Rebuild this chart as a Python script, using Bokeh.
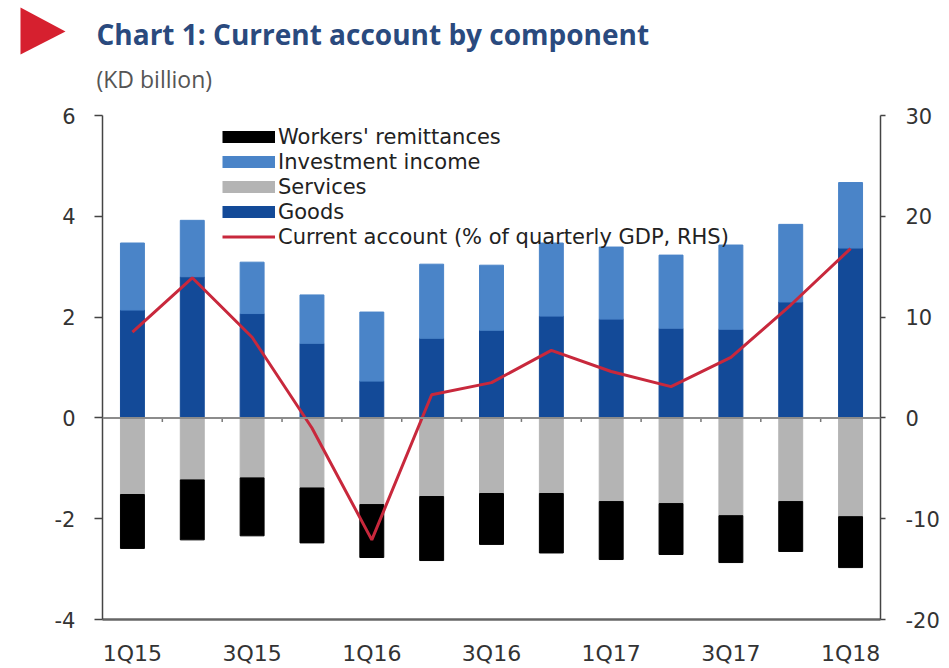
from bokeh.plotting import figure
from bokeh.layouts import column
from bokeh.models import (Range1d, LinearAxis, FixedTicker, Legend, LegendItem,
                          Span, ColumnDataSource)
from bokeh.core.properties import value
from bokeh.embed import file_html
from bokeh.resources import INLINE
import numpy as np

quarters = ["1Q15", "2Q15", "3Q15", "4Q15", "1Q16", "2Q16", "3Q16", "4Q16",
            "1Q17", "2Q17", "3Q17", "4Q17", "1Q18"]
goods = [2.14, 2.80, 2.07, 1.48, 0.73, 1.58, 1.74, 2.02, 1.96, 1.78, 1.76, 2.30, 3.37]
investment_income = [1.33, 1.12, 1.02, 0.96, 1.37, 1.47, 1.29, 1.45, 1.43, 1.45, 1.67, 1.54, 1.30]
services = [-1.52, -1.23, -1.19, -1.39, -1.72, -1.56, -1.50, -1.50, -1.66, -1.70, -1.94, -1.66, -1.96]
workers_remittances = [-1.07, -1.19, -1.15, -1.09, -1.05, -1.27, -1.01, -1.18, -1.15, -1.01, -0.93, -0.99, -1.01]
current_account_pct_gdp = [8.5, 13.9, 8.0, -1.0, -12.1, 2.3, 3.5, 6.7, 4.6, 3.1, 6.0, 11.2, 16.8]

left_ticks = [-4, -2, 0, 2, 4, 6]
right_ticks = [-20, -10, 0, 10, 20, 30]
label_every = 2

TITLE = "Chart 1: Current account by component"
SUBTITLE = "(KD billion)"

C_GOODS = "#134A98"
C_INV = "#4A84C8"
C_SERV = "#B4B4B4"
C_REM = "#000000"
C_LINE = "#C8283C"
TXT = "#333333"

x = np.arange(len(quarters))
g = np.array(goods)
inv = np.array(investment_income)
sv = np.array(services)
rm = np.array(workers_remittances)

src = ColumnDataSource(dict(
    x=x,
    goods_top=g,
    inv_bottom=g, inv_top=g + inv,
    serv_bottom=sv,
    rem_top=sv, rem_bottom=sv + rm,
    ca=current_account_pct_gdp,
))

# ---------- header (title block) ----------
HW, HH = 949, 100
h = figure(width=HW, height=HH, output_backend="svg", toolbar_location=None,
           x_range=Range1d(0, HW), y_range=Range1d(HH, 0),
           x_axis_location=None, y_axis_location=None, min_border=0,
           background_fill_color="white", border_fill_color="white")
h.outline_line_color = None
h.grid.visible = False
h.patch(x=[20, 20, 65], y=[7, 54, 31], fill_color="#D6202F", line_color=None)
h.text(x=[96], y=[33], text=[TITLE], text_font=value("Open Sans"), text_font_style="bold",
       text_font_size="28px", text_color="#2A4A7E", text_baseline="middle")
h.text(x=[96], y=[78], text=[SUBTITLE], text_font=value("Open Sans"),
       text_font_size="23px", text_color="#555555", text_baseline="middle")

# ---------- main chart ----------
p = figure(frame_width=778, frame_height=504, output_backend="svg", toolbar_location=None,
           x_range=Range1d(-0.5, len(quarters) - 0.5),
           y_range=Range1d(left_ticks[0], left_ticks[-1]),
           min_border_left=102, min_border_right=69, min_border_top=15, min_border_bottom=49,
           background_fill_color="white", border_fill_color="white")
p.outline_line_color = None
p.grid.visible = False
p.extra_y_ranges = {"rhs": Range1d(right_ticks[0], right_ticks[-1])}

for fig in (h, p):
    try:
        fig.frame_align = False
    except Exception:
        pass

W = 0.4
p.vbar(x="x", bottom=0, top="goods_top", width=W, color=C_GOODS, source=src)
p.vbar(x="x", bottom="inv_bottom", top="inv_top", width=W, color=C_INV, source=src)
p.vbar(x="x", bottom=0, top="serv_bottom", width=W, color=C_SERV, source=src)
p.vbar(x="x", bottom="rem_bottom", top="rem_top", width=W, color=C_REM, source=src)

p.add_layout(Span(location=0, dimension="width", line_color="#8C8C8C", line_width=2))
bx = x[:-1] + 0.5
p.segment(x0=bx, y0=0, x1=bx, y1=-0.08, line_color="#777777", line_width=1.5)

ca_r = p.line(x="x", y="ca", source=src, y_range_name="rhs", line_color=C_LINE, line_width=3)


def style_y(ax, ticks, tick_out, standoff):
    ax.ticker = FixedTicker(ticks=ticks)
    ax.major_label_overrides = {t: str(t) for t in ticks}
    ax.major_tick_out = tick_out
    ax.major_tick_in = 0
    ax.minor_tick_out = 0
    ax.minor_tick_in = 0
    ax.axis_line_color = "#444444"
    ax.axis_line_width = 1.5
    ax.major_tick_line_color = "#444444"
    ax.major_tick_line_width = 1.5
    ax.major_label_standoff = standoff
    ax.major_label_text_font = "DejaVu Sans"
    ax.major_label_text_font_size = "21px"
    ax.major_label_text_color = TXT


style_y(p.yaxis[0], left_ticks, 8, 19)
rax = LinearAxis(y_range_name="rhs")
style_y(rax, right_ticks, 5, 20)
p.add_layout(rax, "right")

xa = p.xaxis[0]
xa.ticker = FixedTicker(ticks=list(x[::label_every]))
xa.major_label_overrides = {int(i): quarters[i] for i in x[::label_every]}
xa.major_tick_out = 0
xa.major_tick_in = 0
xa.minor_tick_out = 0
xa.minor_tick_in = 0
xa.axis_line_color = "#666666"
xa.axis_line_width = 2.5
xa.major_label_standoff = 21
xa.major_label_text_font = "DejaVu Sans"
xa.major_label_text_font_size = "22px"
xa.major_label_text_color = TXT

# legend swatch proxies (no visible data)
def proxy(color):
    return p.line(x="x", y="y", source=ColumnDataSource(dict(x=[np.nan], y=[np.nan])),
                  line_color=color, line_width=12, line_cap="butt")

lr, li, ls, lg = proxy(C_REM), proxy(C_INV), proxy(C_SERV), proxy(C_GOODS)

legend = Legend(items=[
    LegendItem(label="Workers' remittances", renderers=[lr]),
    LegendItem(label="Investment income", renderers=[li]),
    LegendItem(label="Services", renderers=[ls]),
    LegendItem(label="Goods", renderers=[lg]),
    LegendItem(label="Current account (% of quarterly GDP, RHS)", renderers=[ca_r]),
], location=(120, 370), glyph_width=53, glyph_height=25, label_height=25,
    spacing=0, padding=0, margin=0, label_standoff=3,
    border_line_color=None, background_fill_alpha=0,
    label_text_font="DejaVu Sans", label_text_font_size="21px", label_text_color="#222222")
p.add_layout(legend)

layout = column(h, p, spacing=0)
open("out.html", "w").write(file_html(layout, INLINE))
